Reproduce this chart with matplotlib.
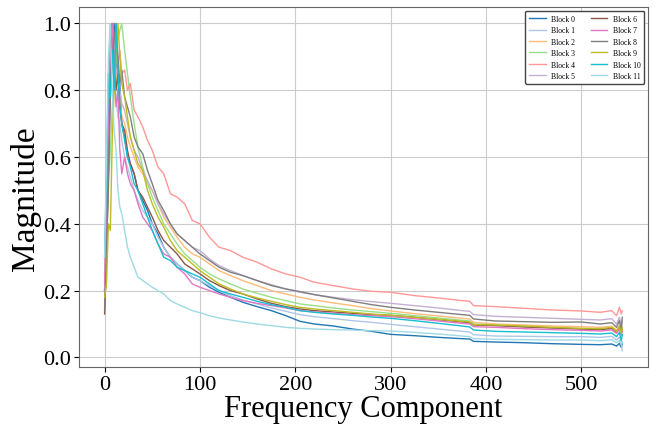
import matplotlib
matplotlib.use("Agg")
import matplotlib.pyplot as plt
import numpy as np

plt.rcParams['font.family'] = ['Liberation Serif', 'DejaVu Serif']

# frequency component index where values were read
freq = [0, 2, 4, 6, 8, 10, 12, 14, 16, 18, 21, 24, 27, 31, 35, 40, 45, 50, 56, 62,
        69, 76, 84, 92, 100, 110, 120, 132, 145, 160, 175, 190, 205, 220, 240, 260,
        280, 300, 325, 350, 375, 383, 387, 410, 440, 470, 500, 520, 532, 537, 540, 542, 543]

block0 = [0.20, 0.40, 0.65, 0.85, 0.90, 1.00, 0.88, 0.80, 0.82, 0.70, 0.66, 0.60, 0.58, 0.55, 0.50, 0.47,
          0.44, 0.40, 0.37, 0.33, 0.30, 0.28, 0.26, 0.24, 0.23, 0.21, 0.195, 0.18, 0.165, 0.152, 0.14,
          0.125, 0.108, 0.100, 0.094, 0.085, 0.078, 0.069, 0.065, 0.060, 0.056, 0.055, 0.048, 0.046,
          0.044, 0.041, 0.039, 0.038, 0.040, 0.034, 0.042, 0.030, 0.040]
block1 = [0.25, 0.50, 0.80, 1.00, 0.90, 0.85, 0.78, 0.72, 0.70, 0.65, 0.60, 0.57, 0.54, 0.50, 0.47, 0.44,
          0.42, 0.40, 0.36, 0.33, 0.30, 0.28, 0.26, 0.24, 0.23, 0.215, 0.20, 0.185, 0.172, 0.160, 0.148,
          0.138, 0.128, 0.122, 0.116, 0.110, 0.105, 0.099, 0.092, 0.085, 0.078, 0.076, 0.068, 0.064,
          0.063, 0.062, 0.062, 0.060, 0.063, 0.052, 0.060, 0.045, 0.020]
block2 = [0.25, 0.45, 0.70, 0.95, 1.00, 0.90, 0.85, 0.80, 0.78, 0.72, 0.70, 0.66, 0.63, 0.60, 0.57, 0.55,
          0.52, 0.50, 0.46, 0.42, 0.39, 0.36, 0.33, 0.31, 0.30, 0.28, 0.26, 0.245, 0.23, 0.215, 0.20,
          0.19, 0.18, 0.172, 0.163, 0.155, 0.146, 0.139, 0.131, 0.124, 0.117, 0.115, 0.105, 0.100,
          0.097, 0.094, 0.092, 0.090, 0.093, 0.082, 0.095, 0.075, 0.090]
block3 = [0.20, 0.35, 0.50, 0.62, 0.75, 0.82, 0.90, 0.95, 0.98, 1.00, 0.92, 0.85, 0.78, 0.70, 0.63, 0.57,
          0.52, 0.48, 0.44, 0.40, 0.37, 0.34, 0.31, 0.29, 0.27, 0.25, 0.235, 0.22, 0.205, 0.192, 0.18,
          0.17, 0.16, 0.155, 0.148, 0.142, 0.137, 0.132, 0.125, 0.118, 0.111, 0.109, 0.100, 0.097,
          0.093, 0.089, 0.086, 0.084, 0.087, 0.075, 0.090, 0.070, 0.085]
block4 = [0.15, 0.35, 0.62, 0.85, 1.00, 0.90, 0.97, 0.88, 0.92, 0.85, 0.86, 0.80, 0.82, 0.74, 0.72, 0.69,
          0.65, 0.62, 0.57, 0.55, 0.49, 0.48, 0.46, 0.41, 0.40, 0.36, 0.33, 0.32, 0.30, 0.285, 0.265,
          0.25, 0.24, 0.225, 0.215, 0.205, 0.198, 0.195, 0.185, 0.178, 0.170, 0.168, 0.155, 0.152,
          0.147, 0.142, 0.139, 0.135, 0.140, 0.125, 0.150, 0.130, 0.140]
block5 = [0.20, 0.40, 0.70, 0.90, 1.00, 0.92, 0.85, 0.88, 0.80, 0.76, 0.74, 0.70, 0.66, 0.62, 0.60, 0.56,
          0.53, 0.50, 0.46, 0.43, 0.40, 0.37, 0.35, 0.33, 0.32, 0.295, 0.275, 0.26, 0.245, 0.23, 0.218,
          0.205, 0.195, 0.188, 0.180, 0.173, 0.167, 0.162, 0.155, 0.148, 0.140, 0.138, 0.128, 0.123,
          0.120, 0.117, 0.114, 0.112, 0.116, 0.100, 0.120, 0.095, 0.110]
block6 = [0.13, 0.30, 0.55, 0.80, 1.00, 0.88, 0.80, 0.85, 0.75, 0.70, 0.68, 0.62, 0.58, 0.55, 0.50, 0.48,
          0.45, 0.42, 0.38, 0.35, 0.33, 0.31, 0.28, 0.265, 0.25, 0.23, 0.215, 0.20, 0.19, 0.175, 0.162,
          0.152, 0.145, 0.140, 0.136, 0.132, 0.128, 0.126, 0.120, 0.113, 0.106, 0.104, 0.097, 0.095,
          0.091, 0.088, 0.085, 0.083, 0.087, 0.076, 0.090, 0.070, 0.085]
block7 = [0.22, 0.45, 0.72, 0.95, 1.00, 0.85, 0.75, 0.80, 0.62, 0.55, 0.60, 0.55, 0.52, 0.50, 0.46, 0.42,
          0.40, 0.38, 0.34, 0.31, 0.30, 0.27, 0.25, 0.22, 0.21, 0.20, 0.19, 0.18, 0.17, 0.162, 0.155,
          0.148, 0.140, 0.136, 0.132, 0.128, 0.125, 0.122, 0.116, 0.109, 0.102, 0.100, 0.092, 0.090,
          0.086, 0.083, 0.081, 0.079, 0.082, 0.072, 0.085, 0.066, 0.080]
block8 = [0.14, 0.30, 0.55, 0.78, 0.88, 0.95, 1.00, 0.90, 0.82, 0.86, 0.78, 0.75, 0.72, 0.66, 0.63, 0.61,
          0.56, 0.52, 0.47, 0.44, 0.40, 0.37, 0.35, 0.33, 0.31, 0.29, 0.27, 0.255, 0.245, 0.23, 0.215,
          0.205, 0.197, 0.188, 0.178, 0.168, 0.158, 0.150, 0.142, 0.135, 0.128, 0.126, 0.115, 0.109,
          0.107, 0.105, 0.106, 0.100, 0.104, 0.090, 0.110, 0.080, 0.120]
block9 = [0.18, 0.22, 0.40, 0.38, 0.65, 0.80, 0.90, 1.00, 0.90, 0.82, 0.78, 0.72, 0.66, 0.62, 0.58, 0.56,
          0.50, 0.46, 0.42, 0.39, 0.35, 0.32, 0.30, 0.28, 0.26, 0.24, 0.22, 0.205, 0.19, 0.178, 0.168,
          0.158, 0.150, 0.145, 0.140, 0.135, 0.130, 0.126, 0.120, 0.114, 0.108, 0.106, 0.098, 0.097,
          0.094, 0.090, 0.087, 0.086, 0.090, 0.078, 0.092, 0.072, 0.088]
block10 = [0.30, 0.55, 0.85, 0.78, 0.92, 0.80, 1.00, 0.85, 0.75, 0.70, 0.65, 0.60, 0.57, 0.52, 0.50, 0.46,
           0.42, 0.38, 0.34, 0.30, 0.29, 0.27, 0.26, 0.25, 0.24, 0.22, 0.20, 0.19, 0.18, 0.168, 0.158,
           0.150, 0.140, 0.135, 0.130, 0.126, 0.121, 0.117, 0.110, 0.102, 0.094, 0.091, 0.082, 0.078,
           0.076, 0.074, 0.072, 0.070, 0.073, 0.062, 0.075, 0.050, 0.068]
block11 = [0.30, 0.60, 0.90, 1.00, 0.80, 0.68, 0.62, 0.50, 0.45, 0.43, 0.38, 0.33, 0.30, 0.27, 0.24, 0.23,
           0.22, 0.21, 0.20, 0.19, 0.17, 0.16, 0.15, 0.14, 0.134, 0.125, 0.118, 0.112, 0.106, 0.100, 0.095,
           0.090, 0.087, 0.085, 0.083, 0.082, 0.080, 0.079, 0.075, 0.070, 0.064, 0.062, 0.056, 0.054,
           0.053, 0.052, 0.052, 0.050, 0.053, 0.044, 0.050, 0.038, 0.048]

blocks = [block0, block1, block2, block3, block4, block5,
          block6, block7, block8, block9, block10, block11]
labels = [f"Block {i}" for i in range(12)]

colors = plt.cm.tab20(np.linspace(0, 1, len(blocks)))

fig = plt.figure(figsize=(6.56, 4.27), dpi=100)
ax = fig.add_axes([0.120, 0.138, 0.868, 0.843])

for vals, lab, c in zip(blocks, labels, colors):
    ax.plot(freq, vals, color=c, linewidth=1.0, label=lab)

ax.set_xlabel("Frequency Component", fontsize=22, labelpad=0)
ax.set_ylabel("Magnitude", fontsize=24)
ax.yaxis.set_label_coords(-0.067, 0.47)
ax.tick_params(labelsize=16, pad=2)
ax.grid(True, color="#cccccc", linewidth=0.8)
for s in ax.spines.values():
    s.set_color("#666666")

ax.legend(loc="upper right", ncol=2, fontsize=5.5, framealpha=1,
          edgecolor="#444444", handlelength=2.2, labelspacing=0.45,
          columnspacing=2.0, borderpad=0.5, handletextpad=0.7)

fig.savefig("out.png", dpi=100)
